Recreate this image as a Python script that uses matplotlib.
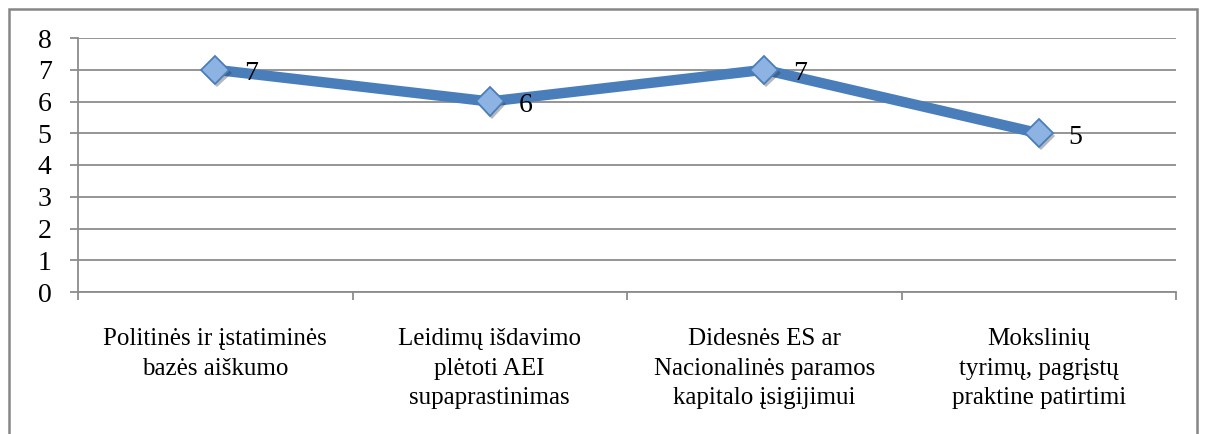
import numpy as np
import matplotlib
matplotlib.use("Agg")
import matplotlib.pyplot as plt
from matplotlib.patches import Rectangle
import matplotlib.patheffects as pe

# data
categories = ["Politinės ir įstatiminės\nbazės aiškumo",
              "Leidimų išdavimo\nplėtoti AEI\nsupaprastinimas",
              "Didesnės ES ar\nNacionalinės paramos\nkapitalo įsigijimui",
              "Mokslinių\ntyrimų, pagrįstų\npraktine patirtimi"]
values = [7, 6, 7, 5]
yticks = [0, 1, 2, 3, 4, 5, 6, 7, 8]

plt.rcParams['font.family'] = ['Liberation Serif', 'DejaVu Serif']

fig = plt.figure(figsize=(12.06, 4.34), dpi=100)
ax = fig.add_axes([78/1206, 142/434, 1098/1206, 254/434])

x = np.arange(len(categories))
ax.plot(x, values, color='#4A7EBB', lw=7.5, solid_capstyle='round', zorder=3)
ax.plot(x, values, ls='none', marker='D', ms=14.5, mfc='#8DB3E2', mec='#4A7EBB',
        mew=1.3, zorder=4,
        path_effects=[pe.SimplePatchShadow(offset=(1.5, -2), alpha=0.35), pe.Normal()])

for xi, v in zip(x, values):
    ax.annotate(str(v), (xi, v), xytext=(21, -3), textcoords='offset points',
                ha='left', va='center', fontsize=20, zorder=5)

ax.set_xlim(-0.5, len(categories) - 0.5)
ax.set_ylim(0, 8)
ax.set_yticks(yticks)
ax.set_yticklabels([str(t) for t in yticks], fontsize=20)
ax.yaxis.grid(True, color='#8C8C8C', lw=1.3)
ax.set_axisbelow(True)

ax.set_xticks(x)
ax.set_xticklabels(categories, fontsize=18, linespacing=1.45)
ax.set_xticks(np.arange(-0.5, len(categories)), minor=True)
ax.tick_params(axis='x', which='major', length=0, pad=26)
ax.tick_params(axis='x', which='minor', length=6, color='#8C8C8C', width=1.3)
ax.tick_params(axis='y', length=6, color='#8C8C8C', width=1.3, pad=13)

for s in ['top', 'right']:
    ax.spines[s].set_visible(False)
for s in ['left', 'bottom']:
    ax.spines[s].set_color('#8C8C8C')
    ax.spines[s].set_linewidth(1.3)

# outer frame
fig.patches.append(Rectangle((9/1206, -0.05), 1188/1206, 1.05 - 9/434,
                             transform=fig.transFigure, fill=False,
                             ec='#868686', lw=1.8, clip_on=False))

fig.savefig('out.png', dpi=100)
